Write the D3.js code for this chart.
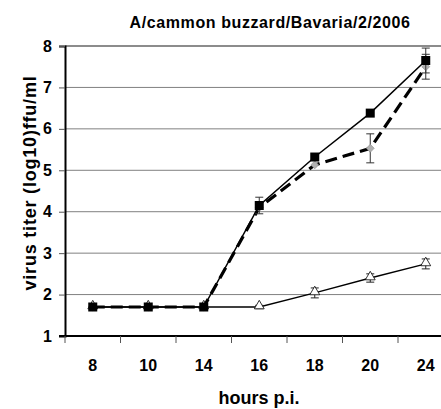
<!DOCTYPE html>
<meta charset="utf-8">
<script src="https://d3js.org/d3.v7.min.js"></script>
<style>
  body { margin: 0; background: #fff; }
  svg { display: block; font-family: "Liberation Sans", Arial, sans-serif; font-weight: bold; }
</style>
<body>
<script>
// values
var hours = ["8", "10", "14", "16", "18", "20", "24"];
var squares = [1.7, 1.7, 1.7, 4.15, 5.32, 6.38, 7.65];
var squaresErr = [0, 0, 0, 0.2, 0, 0, 0.3];
var diamonds = [1.7, 1.7, 1.7, 4.1, 5.13, 5.53, 7.5];
var diamondsErr = [0, 0, 0, 0, 0, 0.35, 0.3];
var triangles = [1.7, 1.7, 1.7, 1.7, 2.04, 2.4, 2.74];
var trianglesErr = [0, 0, 0, 0.04, 0.12, 0.1, 0.12];
var yTicks = [1, 2, 3, 4, 5, 6, 7, 8];

var width = 441, height = 409;
var margin = {top: 46, left: 65, bottom: 73};

var svg = d3.select("body").append("svg")
    .attr("width", width)
    .attr("height", height);

var x = d3.scaleBand().domain(hours).range([margin.left, margin.left + 7 * 55.5]);
var y = d3.scaleLinear().domain([1, 8]).range([height - margin.bottom, margin.top]);

// grid
svg.append("g")
  .selectAll("line")
  .data(yTicks.slice(1))
  .join("line")
    .attr("x1", margin.left).attr("x2", width)
    .attr("y1", d => y(d)).attr("y2", d => y(d))
    .attr("stroke", d => d === 8 ? "#666" : "#808080")
    .attr("stroke-width", d => d === 8 ? 1.6 : 1);

// y axis
var yAxis = svg.append("g")
    .attr("transform", "translate(" + margin.left + ",0)")
    .call(d3.axisLeft(y).tickValues(yTicks).tickSize(6).tickPadding(7).tickFormat(d3.format("d")));
yAxis.select(".domain").attr("stroke", "#000").attr("stroke-width", 2);
yAxis.selectAll(".tick line").attr("stroke", "#555");
yAxis.selectAll("text").attr("font-size", 16).attr("font-family", null).attr("fill", "#000");

// x axis
var xAxis = svg.append("g")
    .attr("transform", "translate(0," + y(1) + ")");
xAxis.append("line")
    .attr("x1", margin.left - 6).attr("x2", width)
    .attr("stroke", "#000").attr("stroke-width", 2);
xAxis.selectAll("line.tk")
  .data(d3.range(0, 8))
  .join("line")
    .attr("class", "tk")
    .attr("x1", d => margin.left + d * x.step()).attr("x2", d => margin.left + d * x.step())
    .attr("y1", 0).attr("y2", 7)
    .attr("stroke", "#555");
xAxis.selectAll("text")
  .data(hours)
  .join("text")
    .attr("x", d => x(d) + x.bandwidth() / 2)
    .attr("y", 35)
    .attr("text-anchor", "middle")
    .attr("font-size", 16)
    .text(d => d);

var cx = (d, i) => x(hours[i]) + x.bandwidth() / 2;

function errorBars(vals, errs, color) {
  var g = svg.append("g").attr("stroke", color).attr("stroke-width", 1);
  vals.forEach(function(v, i) {
    if (!errs[i]) return;
    var px = cx(v, i), t = y(v + errs[i]), b = y(v - errs[i]);
    g.append("line").attr("x1", px).attr("x2", px).attr("y1", t).attr("y2", b);
    g.append("line").attr("x1", px - 4).attr("x2", px + 4).attr("y1", t).attr("y2", t);
    g.append("line").attr("x1", px - 4).attr("x2", px + 4).attr("y1", b).attr("y2", b);
  });
}

var line = d3.line().x(cx).y(d => y(d));

// triangles series
errorBars(triangles, trianglesErr, "#222");
svg.append("path")
    .attr("d", line(triangles))
    .attr("fill", "none").attr("stroke", "#000").attr("stroke-width", 1.3);
svg.append("g")
  .selectAll("path")
  .data(triangles)
  .join("path")
    .attr("d", d3.symbol(d3.symbolTriangle, 42))
    .attr("transform", (d, i) => "translate(" + cx(d, i) + "," + (y(d) - 1) + ")")
    .attr("fill", "#fff").attr("stroke", "#000").attr("stroke-width", 0.8);

// squares line
svg.append("path")
    .attr("d", line(squares))
    .attr("fill", "none").attr("stroke", "#000").attr("stroke-width", 1.5);

// diamonds series
errorBars(diamonds, diamondsErr, "#333");
svg.append("path")
    .attr("d", line(diamonds))
    .attr("fill", "none").attr("stroke", "#000").attr("stroke-width", 3.2)
    .attr("stroke-dasharray", "12,6");
svg.append("g")
  .selectAll("path")
  .data(diamonds)
  .join("path")
    .attr("d", d3.symbol(d3.symbolDiamond2, 40))
    .attr("transform", (d, i) => "translate(" + cx(d, i) + "," + y(d) + ")")
    .attr("fill", "#b0b0b0").attr("stroke", "#888").attr("stroke-width", 0.6);

// squares markers
errorBars(squares, squaresErr, "#333");
svg.append("g")
  .selectAll("rect")
  .data(squares)
  .join("rect")
    .attr("x", (d, i) => cx(d, i) - 4.5)
    .attr("y", d => y(d) - 4.5)
    .attr("width", 9).attr("height", 9)
    .attr("fill", "#000");

// titles
svg.append("text")
    .attr("x", 270).attr("y", 28)
    .attr("text-anchor", "middle")
    .attr("font-size", 16)
    .attr("letter-spacing", 0.6)
    .text("A/cammon buzzard/Bavaria/2/2006");

svg.append("text")
    .attr("transform", "translate(36,183) rotate(-90)")
    .attr("text-anchor", "middle")
    .attr("font-size", 18)
    .attr("letter-spacing", 0.8)
    .text("virus titer (log10)ffu/ml");

svg.append("text")
    .attr("x", 259).attr("y", 404)
    .attr("text-anchor", "middle")
    .attr("font-size", 18)
    .text("hours p.i.");
</script>
</body>
